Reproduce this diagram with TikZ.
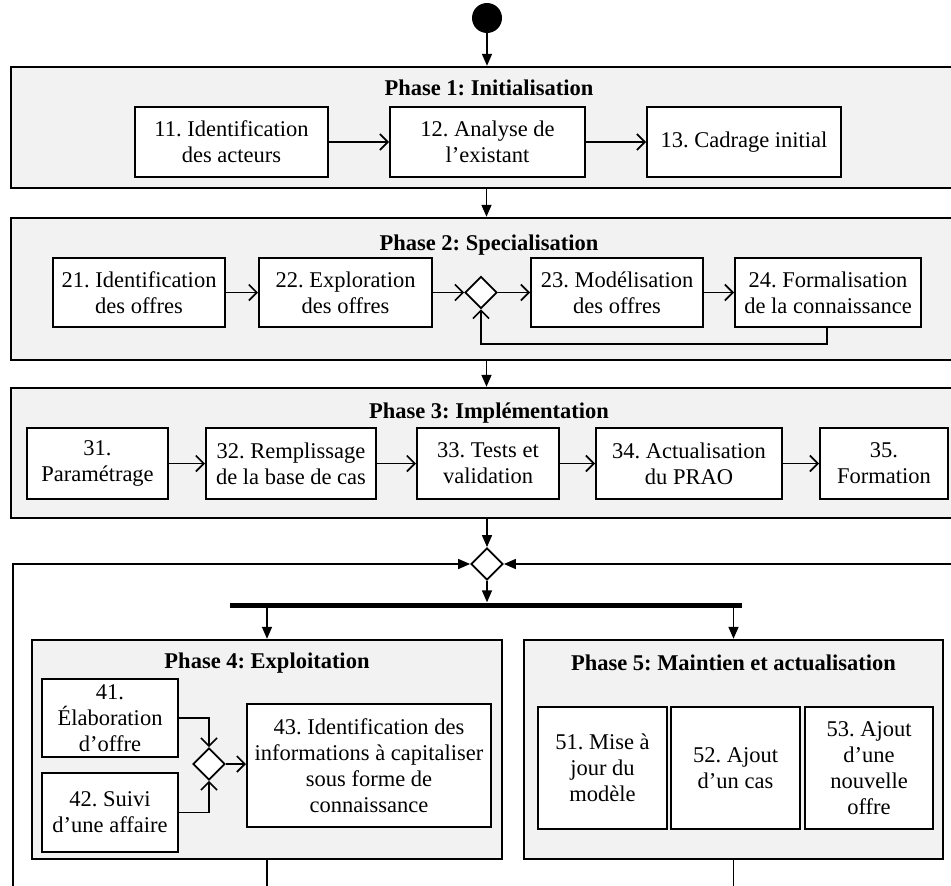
\documentclass[tikz,border=0pt]{standalone}
\usepackage{fontspec}
\setmainfont{Liberation Serif}
\usetikzlibrary{arrows.meta,shapes.geometric,calc}
\definecolor{phasegray}{RGB}{242,242,242}
\frenchspacing
\begin{document}
\begin{tikzpicture}[x=1pt,y=-1pt,
  phase/.style={draw, line width=2.4pt, fill=phasegray, rectangle, inner sep=0pt},
  act/.style={draw, line width=2pt, fill=white, rectangle, inner sep=0pt, align=center, font=\frenchspacing\fontsize{22.5}{26}\selectfont},
  ttl/.style={font=\frenchspacing\fontsize{22.5}{26}\selectfont\bfseries, inner sep=0pt},
  flow/.style={line width=1.6pt, -{Triangle[length=12pt,width=10pt]}},
  oarr/.style={line width=1.6pt, -{Straight Barb[length=8pt,width=16pt,line width=1.6pt]}},
  plainline/.style={line width=1.6pt},
  dmd/.style={draw, diamond, fill=white, line width=1.8pt, minimum width=32pt, minimum height=32pt, inner sep=0pt},
  dot/.style={circle, fill=black, minimum size=30pt, inner sep=0pt},
  barnode/.style={fill=black, inner sep=0pt, minimum width=512pt, minimum height=5pt},
]
\useasboundingbox (0,0) rectangle (951,886);
\clip (0,0) rectangle (951,886);

% start
\node[dot] (start) at (487,18) {};

% Phase 1
\node[phase, minimum width=951pt, minimum height=121pt] (p1) at (486.5,127.5) {};
\node[ttl] (t1) at (489,88) {Phase 1: Initialisation};
\node[act, minimum width=193pt, minimum height=70pt] (a11) at (231.5,142) {11. Identification\\des acteurs};
\node[act, minimum width=195pt, minimum height=70pt] (a12) at (487.5,142) {12. Analyse de\\l’existant};
\node[act, minimum width=194pt, minimum height=70pt] (a13) at (744,142) {13. Cadrage initial};
\draw[flow] (start) -- (start |- p1.north);
\draw[oarr] (a11) -- (a12);
\draw[oarr] (a12) -- (a13);

% Phase 2
\node[phase, minimum width=951pt, minimum height=142pt] (p2) at (486.5,289) {};
\node[ttl] (t2) at (489,245) {Phase 2: Specialisation};
\node[act, minimum width=172pt, minimum height=69pt] (a21) at (139,292.5) {21. Identification\\des offres};
\node[act, minimum width=173pt, minimum height=69pt] (a22) at (345.5,292.5) {22. Exploration\\des offres};
\node[dmd] (d2) at (481,292.5) {};
\node[act, minimum width=172pt, minimum height=69pt] (a23) at (617,292.5) {23. Modélisation\\des offres};
\node[act, minimum width=186pt, minimum height=69pt] (a24) at (828,292.5) {24. Formalisation\\de la connaissance};
\draw[flow] (p1.south) -- (p2.north);
\draw[oarr] (a21) -- (a22);
\draw[oarr] (a22) -- (d2);
\draw[oarr] (d2) -- (a23);
\draw[oarr] (a23) -- (a24);
\draw[oarr] ([xshift=-1pt]a24.south) -- ++(0,16) -| (d2.south);

% Phase 3
\node[phase, minimum width=951pt, minimum height=130pt] (p3) at (486.5,453) {};
\node[ttl] (t3) at (489,413) {Phase 3: Implémentation};
\node[act, minimum width=141pt, minimum height=71pt] (a31) at (97.5,463.5) {31.\\Paramétrage};
\node[act, minimum width=170pt, minimum height=71pt] (a32) at (291,463.5) {32. Remplissage\\de la base de cas};
\node[act, minimum width=142pt, minimum height=71pt] (a33) at (488,463.5) {33. Tests et\\validation};
\node[act, minimum width=186pt, minimum height=71pt] (a34) at (689,463.5) {34. Actualisation\\du PRAO};
\node[act, minimum width=128pt, minimum height=71pt] (a35) at (884,463.5) {35.\\Formation};
\draw[flow] (p2.south) -- (p3.north);
\draw[oarr] (a31) -- (a32);
\draw[oarr] (a32) -- (a33);
\draw[oarr] (a33) -- (a34);
\draw[oarr] (a34) -- (a35);

% merge and fork
\node[dmd] (m) at (487,564) {};
\coordinate (ol) at (13,564);
\coordinate (olb) at (13,900);
\coordinate (orr) at (970,564);
\draw[flow] (p3.south -| m.north) -- (m.north);
\draw[flow] (olb) -- (ol) -- (m.west);
\draw[flow] (orr) -- (m.east);
\node[barnode] (bar) at (486,605) {};
\draw[flow] (m.south) -- (m.south |- bar.north);

% Phase 4
\node[phase, minimum width=470pt, minimum height=219pt] (p4) at (267,749.5) {};
\node[ttl] (t4) at (267,663) {Phase 4: Exploitation};
\node[act, minimum width=136pt, minimum height=78pt] (a41) at (110,718) {41.\\Élaboration\\d’offre};
\node[act, minimum width=136pt, minimum height=79pt] (a42) at (110,812.5) {42. Suivi\\d’une affaire};
\node[dmd] (d4) at (209,764) {};
\node[act, minimum width=244pt, minimum height=123pt] (a43) at (369,765.5) {43. Identification des\\informations à capitaliser\\sous forme de\\connaissance};
\draw[oarr] (a41.east) -| (d4.north);
\draw[oarr] (a42.east) -| (d4.south);
\draw[oarr] (d4.east) -- (d4.east -| a43.west);

% Phase 5
\node[phase, minimum width=419pt, minimum height=219pt] (p5) at (733.5,749.5) {};
\node[ttl] (t5) at (733.5,663) {Phase 5: Maintien et actualisation};
\node[act, minimum width=129pt, minimum height=122pt] (a51) at (602.5,768) {51. Mise à\\jour du\\modèle};
\node[act, minimum width=129pt, minimum height=122pt] (a52) at (735.5,768) {52. Ajout\\d’un cas};
\node[act, minimum width=128pt, minimum height=122pt] (a53) at (869,768) {53. Ajout\\d’une\\nouvelle\\offre};

\draw[flow] (bar.south -| p4.north) -- (p4.north);
\draw[flow] (bar.south -| p5.north) -- (p5.north);

% bottom exits
\coordinate (b4) at (267,900);
\coordinate (b5) at (733.5,900);
\draw[plainline] (p4.south) -- (b4);
\draw[plainline] (p5.south) -- (b5);
\end{tikzpicture}
\end{document}
